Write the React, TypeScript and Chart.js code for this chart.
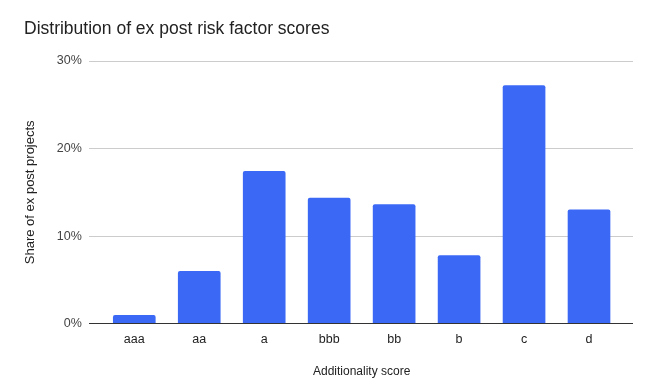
import React, { useEffect, useRef } from "react";
import { Chart, registerables } from "chart.js";

Chart.register(...registerables);

const categories = ["aaa", "aa", "a", "bbb", "bb", "b", "c", "d"];
const shares = [1.0, 6.0, 17.4, 14.35, 13.6, 7.8, 27.15, 13.0];
const yTicks = [0, 10, 20, 30];

const titleText = "Distribution of ex post risk factor scores";
const xTitle = "Additionality score";
const yTitle = "Share of ex post projects";

const FONT = "'Liberation Sans', Arial, sans-serif";

export default function App() {
  const ref = useRef<HTMLCanvasElement | null>(null);

  useEffect(() => {
    if (!ref.current) return;
    const gridPlugin = {
      id: "extGrid",
      beforeDatasetsDraw(chart: any) {
        const { ctx, chartArea, scales } = chart;
        const y = scales.y;
        ctx.save();
        ctx.lineWidth = 1;
        ctx.strokeStyle = "#cccccc";
        for (const t of y.ticks) {
          if (t.value === 0) continue;
          const py = Math.round(y.getPixelForValue(t.value)) + 0.5;
          ctx.beginPath();
          ctx.moveTo(chartArea.left - 12.8, py);
          ctx.lineTo(chartArea.right + 11.5, py);
          ctx.stroke();
        }
        ctx.restore();
      },
      afterDatasetsDraw(chart: any) {
        const { ctx, chartArea, scales } = chart;
        const y = scales.y;
        ctx.save();
        ctx.lineWidth = 1;
        ctx.strokeStyle = "#333333";
        const py = Math.round(y.getPixelForValue(0)) - 0.5;
        ctx.beginPath();
        ctx.moveTo(chartArea.left - 12.8, py);
        ctx.lineTo(chartArea.right + 11.5, py);
        ctx.stroke();
        ctx.restore();
      },
    };

    const chart = new Chart(ref.current, {
      type: "bar",
      data: {
        labels: categories,
        datasets: [
          {
            data: shares,
            backgroundColor: "#3b69f6",
            borderWidth: 0,
            borderRadius: { topLeft: 2, topRight: 2, bottomLeft: 0, bottomRight: 0 },
            borderSkipped: "bottom",
            barThickness: 42,
          },
        ],
      },
      options: {
        animation: false,
        responsive: false,
        maintainAspectRatio: false,
        layout: { padding: { left: 24, right: 42.5, top: 0, bottom: 0 } },
        plugins: {
          legend: { display: false },
          tooltip: { enabled: false },
          title: {
            display: true,
            text: titleText,
            align: "start",
            color: "#222222",
            font: { family: FONT, size: 17.5, weight: "normal", lineHeight: 1.2 },
            padding: { top: 18.8, bottom: 20.8 },
          },
        },
        scales: {
          x: {
            type: "category",
            grid: { display: false, drawTicks: false },
            border: { display: false },
            ticks: {
              color: "#222222",
              font: { family: FONT, size: 12.5 },
              padding: 8,
              maxRotation: 0,
              autoSkip: false,
            },
            title: {
              display: true,
              text: xTitle,
              color: "#222222",
              font: { family: FONT, size: 12, lineHeight: 1.2 },
              padding: { top: 0, bottom: 12.8 },
            },
            afterFit(scale: any) {
              scale.height = 68;
            },
          },
          y: {
            min: 0,
            max: 30,
            afterBuildTicks(scale: any) {
              scale.ticks = yTicks.map((v) => ({ value: v }));
            },
            grid: { display: false, drawTicks: false },
            border: { display: false },
            ticks: {
              color: "#444444",
              font: { family: FONT, size: 12.5 },
              padding: 20,
              callback: (v: any) => v + "%",
            },
            title: {
              display: true,
              text: yTitle,
              color: "#222222",
              font: { family: FONT, size: 13, lineHeight: 1 },
              padding: { top: 0, bottom: 0 },
            },
            afterFit(scale: any) {
              scale.width = 77.8;
            },
          },
        },
      },
      plugins: [gridPlugin],
    });
    return () => chart.destroy();
  }, []);

  return (
    <div style={{ position: "fixed", left: 0, top: 0, width: 664, height: 392, background: "#ffffff" }}>
      <canvas ref={ref} width={664} height={392} style={{ width: 664, height: 392 }} />
    </div>
  );
}
